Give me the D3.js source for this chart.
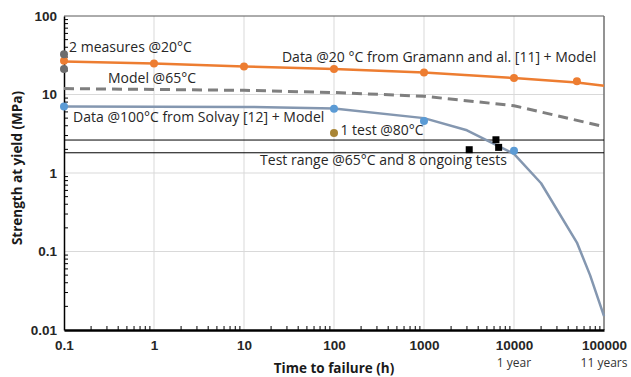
<!DOCTYPE html>
<html>
<head>
<meta charset="utf-8">
<script src="https://cdn.jsdelivr.net/npm/d3@7"></script>
<style>
  body { margin: 0; background: #fff; }
  svg { font-family: "Open Sans", "Noto Sans", sans-serif; }
</style>
</head>
<body>
<svg id="chart" width="631" height="377"></svg>
<script>
// data
const xTicks = [0.1, 1, 10, 100, 1000, 10000, 100000]
const yTicks = [0.01, 0.1, 1, 10, 100]
const xNotes = [{x: 10000, label: '1 year'}, {x: 100000, label: '11 years'}]

const data20 = [
  {t: 0.1, s: 27}, {t: 1, s: 24.8}, {t: 10, s: 22.8}, {t: 100, s: 21.2},
  {t: 1000, s: 19}, {t: 10000, s: 16.2}, {t: 50000, s: 14.7}
]
const model20 = [
  {t: 0.1, s: 26.3}, {t: 1, s: 24.8}, {t: 10, s: 22.8}, {t: 100, s: 21.2},
  {t: 1000, s: 19}, {t: 10000, s: 16.2}, {t: 50000, s: 14.2}, {t: 100000, s: 12.9}
]
const measures20 = [{t: 0.1, s: 32.5}, {t: 0.1, s: 21.2}]
const model65 = [
  {t: 0.1, s: 11.9}, {t: 1, s: 11.6}, {t: 10, s: 11.3}, {t: 100, s: 10.6},
  {t: 1000, s: 9.5}, {t: 10000, s: 7.2}, {t: 100000, s: 3.9}
]
const data100 = [{t: 0.1, s: 7.05}, {t: 100, s: 6.6}, {t: 1000, s: 4.6}, {t: 10000, s: 1.92}]
const model100 = [
  {t: 0.1, s: 7.05}, {t: 1, s: 7.0}, {t: 10, s: 6.95}, {t: 100, s: 6.65},
  {t: 1000, s: 5.0}, {t: 3000, s: 3.5}, {t: 10000, s: 1.75}, {t: 20000, s: 0.74},
  {t: 50000, s: 0.13}, {t: 70000, s: 0.05}, {t: 100000, s: 0.015}
]
const test80 = [{t: 100, s: 3.23}]
const ongoing = [{t: 3180, s: 1.98}, {t: 6300, s: 2.65}, {t: 6750, s: 2.12}]
const testRange = [2.63, 1.81]

const labels = [
  {t: 0.114, s: 35, text: '2 measures @20°C'},
  {t: 0.308, s: 13.9, text: 'Model @65°C'},
  {t: 26.4, s: 26.2, text: 'Data @20 °C from Gramann and al. [11] + Model'},
  {t: 0.126, s: 4.41, text: 'Data @100°C from Solvay [12] + Model'},
  {t: 118, s: 3.08, text: '1 test @80°C'},
  {t: 15.1, s: 1.25, text: 'Test range @65°C and 8 ongoing tests'}
]

const margin = {top: 16, right: 27, bottom: 47, left: 64}
const width = 631, height = 377

const svg = d3.select('#chart')

const x = d3.scaleLog().domain([0.1, 100000]).range([margin.left, width - margin.right])
const y = d3.scaleLog().domain([0.01, 100]).range([height - margin.bottom, margin.top])

// gridlines
svg.append('g')
  .selectAll('line')
  .data(xTicks.slice(1, -1))
  .join('line')
    .attr('x1', d => x(d)).attr('x2', d => x(d))
    .attr('y1', y(100)).attr('y2', y(0.01))
    .attr('stroke', '#d9d9d9')
svg.append('g')
  .selectAll('line')
  .data(yTicks.slice(1, -1))
  .join('line')
    .attr('x1', x(0.1)).attr('x2', x(100000))
    .attr('y1', d => y(d)).attr('y2', d => y(d))
    .attr('stroke', '#d9d9d9')

// top and right frame
svg.append('line')
  .attr('x1', x(0.1)).attr('x2', x(100000)).attr('y1', y(100)).attr('y2', y(100))
  .attr('stroke', '#595959').attr('stroke-width', 1)
svg.append('line')
  .attr('x1', x(100000)).attr('x2', x(100000)).attr('y1', y(100)).attr('y2', y(0.01))
  .attr('stroke', '#6f6f6f').attr('stroke-width', 1.5)

// test range lines
svg.append('g')
  .selectAll('line')
  .data(testRange)
  .join('line')
    .attr('x1', x(0.1)).attr('x2', x(100000))
    .attr('y1', d => y(d)).attr('y2', d => y(d))
    .attr('stroke', '#000').attr('stroke-width', 1)

// minor ticks
const minor = (lo, hi) => {
  const out = []
  for (let p = Math.log10(lo); p < Math.log10(hi); p++)
    for (let m = 2; m <= 9; m++) out.push(m * Math.pow(10, p))
  return out
}

const xAxis = d3.axisBottom(x).tickValues(xTicks).tickFormat(d => d >= 1 ? d3.format('d')(d) : d).tickSize(0).tickPadding(10)
const gx = svg.append('g')
  .attr('transform', 'translate(0,' + y(0.01) + ')')
  .call(xAxis)
gx.select('.domain').attr('stroke', '#000').attr('stroke-width', 2.5)
gx.selectAll('text').attr('font-size', 13.5).attr('font-weight', 'bold').attr('fill', '#262626')
svg.append('g')
  .selectAll('line')
  .data(minor(0.1, 100000))
  .join('line')
    .attr('x1', d => x(d)).attr('x2', d => x(d))
    .attr('y1', y(0.01)).attr('y2', y(0.01) - 4)
    .attr('stroke', '#000')

const yAxis = d3.axisLeft(y).tickValues(yTicks).tickFormat(d => d).tickSize(0).tickPadding(7)
const gy = svg.append('g')
  .attr('transform', 'translate(' + x(0.1) + ',0)')
  .call(yAxis)
gy.select('.domain').attr('stroke', '#000').attr('stroke-width', 1.5)
gy.selectAll('text').attr('font-size', 13.5).attr('font-weight', 'bold').attr('fill', '#262626')
svg.append('g')
  .selectAll('line')
  .data(minor(0.01, 100))
  .join('line')
    .attr('x1', x(0.1)).attr('x2', x(0.1) + 4)
    .attr('y1', d => y(d)).attr('y2', d => y(d))
    .attr('stroke', '#000')

// axis notes
svg.append('g')
  .selectAll('text')
  .data(xNotes)
  .join('text')
    .attr('x', d => x(d.x)).attr('y', height - 10)
    .attr('text-anchor', 'middle')
    .attr('font-size', 12).attr('fill', '#333')
    .text(d => d.label)

// axis titles
svg.append('text')
  .attr('x', x(100)).attr('y', height - 4)
  .attr('text-anchor', 'middle')
  .attr('font-size', 13.5).attr('font-weight', 'bold').attr('fill', '#1a1a1a')
  .text('Time to failure (h)')
svg.append('text')
  .attr('transform', 'translate(22,168) rotate(-90)')
  .attr('text-anchor', 'middle')
  .attr('font-size', 13.5).attr('font-weight', 'bold').attr('fill', '#1a1a1a')
  .text('Strength at yield (MPa)')

const line = d3.line().x(d => x(d.t)).y(d => y(d.s))

svg.append('path').datum(model65)
  .attr('d', line).attr('fill', 'none')
  .attr('stroke', '#7f7f7f').attr('stroke-width', 3).attr('stroke-dasharray', '10,6')

svg.append('path').datum(model100)
  .attr('d', line).attr('fill', 'none')
  .attr('stroke', '#8497b0').attr('stroke-width', 2.5).attr('stroke-linejoin', 'round')

svg.append('path').datum(model20)
  .attr('d', line).attr('fill', 'none')
  .attr('stroke', '#ed7d31').attr('stroke-width', 2.5).attr('stroke-linejoin', 'round')

const dots = (arr, color) => svg.append('g')
  .selectAll('circle')
  .data(arr)
  .join('circle')
    .attr('cx', d => x(d.t)).attr('cy', d => y(d.s))
    .attr('r', 4).attr('fill', color)

dots(data20, '#ed7d31')
dots(measures20, '#6d6d6d')
dots(data100, '#5b9bd5')
dots(test80, '#a98535')

svg.append('g')
  .selectAll('rect')
  .data(ongoing)
  .join('rect')
    .attr('x', d => x(d.t) - 3.5).attr('y', d => y(d.s) - 3.5)
    .attr('width', 7).attr('height', 7).attr('fill', '#000')

svg.append('g')
  .selectAll('text')
  .data(labels)
  .join('text')
    .attr('x', d => x(d.t)).attr('y', d => y(d.s))
    .attr('font-size', 14).attr('fill', '#262626')
    .text(d => d.text)
</script>
</body>
</html>
